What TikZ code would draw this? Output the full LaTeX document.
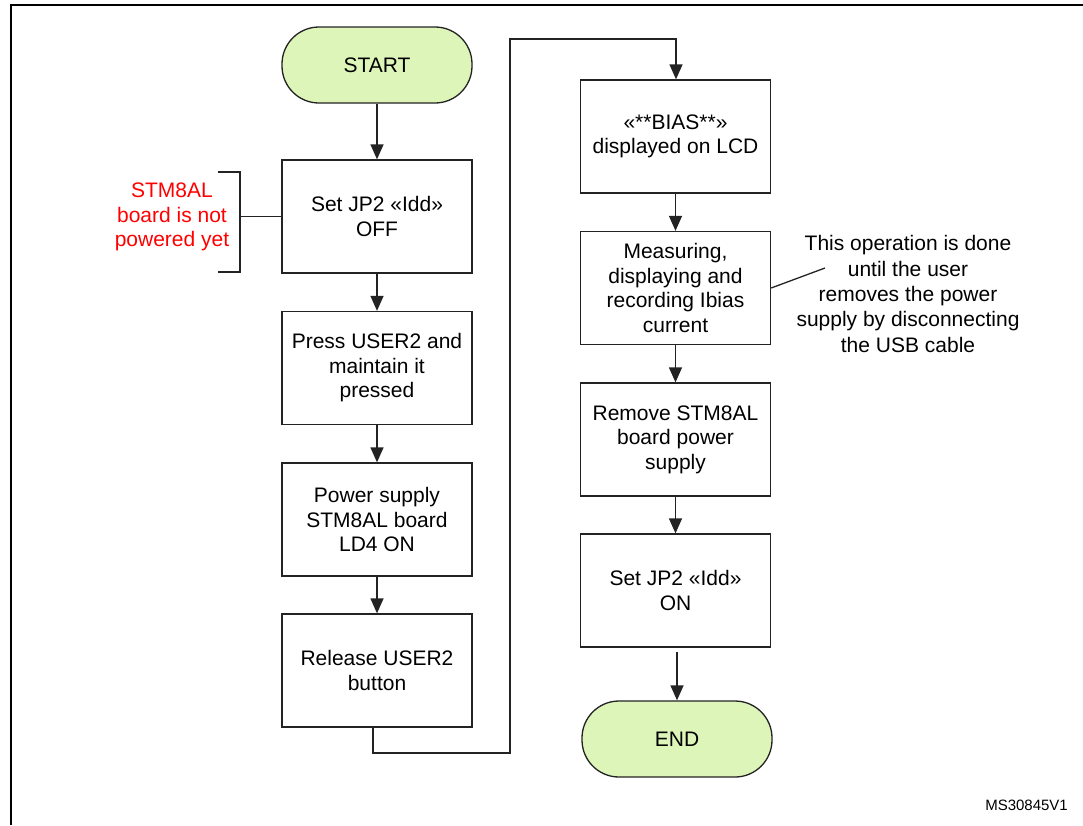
\documentclass[tikz,border=0pt]{standalone}
\usepackage{fontspec}
\setmainfont{Liberation Sans}
\usetikzlibrary{arrows.meta}
\definecolor{termfill}{RGB}{222,245,185}
\definecolor{linegray}{RGB}{35,35,35}
\definecolor{notered}{RGB}{255,0,0}
\begin{document}
\begin{tikzpicture}[x=1pt,y=-1pt,
  every node/.style={font=\fontsize{21}{24.5}\selectfont, align=center, inner sep=0pt},
  procbox/.style={draw=linegray, line width=1.3pt, minimum width=190pt, minimum height=113pt, fill=white},
  termbox/.style={draw=linegray, line width=1.3pt, minimum width=190pt, minimum height=76pt, rounded corners=37pt, fill=termfill},
  flow/.style={draw=linegray, line width=1.3pt, -{Triangle[width=13pt,length=15pt]}},
  plain/.style={draw=linegray, line width=1.3pt}
]
\useasboundingbox (0,0) rectangle (1083,825);
% frame
\draw[line width=2.5pt] (11,825) -- (11,5) -- (1083,5);

% left column
\node[termbox] (start) at (377,65) {START};
\node[procbox] (b1) at (377,216.5) {Set JP2 «Idd»\\OFF};
\node[procbox] (b2) at (377,368) {Press USER2 and\\maintain it\\pressed};
\node[procbox] (b3) at (377,519.5) {Power supply\\STM8AL board\\LD4 ON};
\node[procbox] (b4) at (377,670.5) {Release USER2\\button};

% right column
\node[procbox] (b5) at (675.5,136.5) {«**BIAS**»\\displayed on LCD};
\node[procbox] (b6) at (675.5,288) {Measuring,\\displaying and\\recording Ibias\\current};
\node[procbox] (b7) at (675.5,439.5) {Remove STM8AL\\board power\\supply};
\node[procbox] (b8) at (675.5,590.5) {Set JP2 «Idd»\\ON};
\node[termbox] (end) at (677,739) {END};

% flow arrows
\draw[flow] (start.south) -- (b1.north);
\draw[flow] (b1.south) -- (b2.north);
\draw[flow] (b2.south) -- (b3.north);
\draw[flow] (b3.south) -- (b4.north);
\coordinate (c1) at (373,753);
\coordinate (c2) at (510,753);
\coordinate (c3) at (510,39);
\coordinate (c4) at (676,39);
\draw[flow] (b4.south -| c1) -- (c1) -- (c2) -- (c3) -- (c4) -- (b5.north -| c4);
\draw[flow] (b5.south) -- (b6.north);
\draw[flow] (b6.south) -- (b7.north);
\draw[flow] (b7.south) -- (b8.north);
\coordinate (c5) at (677,652);
\draw[flow] (c5) -- (end.north);

% left annotation
\node[text=notered] (note1) at (172,217) {STM8AL\\board is not\\powered yet};
\coordinate (br1) at (218,172);
\coordinate (br2) at (240,172);
\coordinate (br3) at (240,272);
\coordinate (br4) at (218,272);
\coordinate (br5) at (240,216.5);
\draw[plain] (br1) -- (br2) -- (br3) -- (br4);
\draw[plain] (br5) -- (b1.west);

% right annotation
\node[font=\fontsize{21}{25.3}\selectfont] (note2) at (908,294) {This operation is done\\until the user\\removes the power\\supply by disconnecting\\the USB cable};
\coordinate (n2) at (825,268);
\draw[plain] (b6.east) -- (n2);

% figure id
\node[font=\fontsize{15}{17}\selectfont, anchor=east] (fid) at (1068,805) {MS30845V1};
\end{tikzpicture}
\end{document}
